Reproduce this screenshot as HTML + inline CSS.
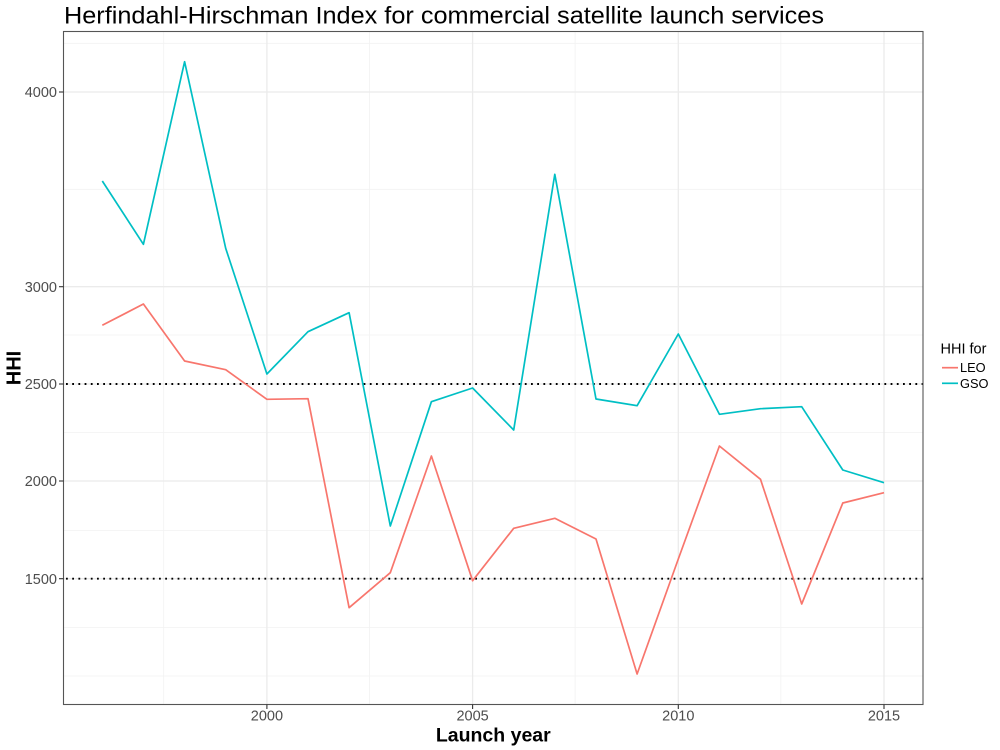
<!DOCTYPE html>
<html>
<head>
<meta charset="utf-8">
<style>
html,body{margin:0;padding:0;background:#fff;}
svg{display:block;font-family:"Liberation Sans",Arial,sans-serif;}
</style>
</head>
<body>
<svg width="1000" height="750" viewBox="0 0 1000 750" xmlns="http://www.w3.org/2000/svg">
<rect x="0" y="0" width="1000" height="750" fill="#fff"/>
<!-- minor gridlines -->
<g stroke="#f2f2f2" stroke-width="0.8" fill="none">
<line x1="64" x2="923" y1="43.3" y2="43.3"/>
<line x1="64" x2="923" y1="189.3" y2="189.3"/>
<line x1="64" x2="923" y1="335" y2="335"/>
<line x1="64" x2="923" y1="432.5" y2="432.5"/>
<line x1="64" x2="923" y1="530.5" y2="530.5"/>
<line x1="64" x2="923" y1="627.5" y2="627.5"/>
<line x1="64" x2="923" y1="676" y2="676"/>
<line y1="32" y2="704" x1="163.7" x2="163.7"/>
<line y1="32" y2="704" x1="369.4" x2="369.4"/>
<line y1="32" y2="704" x1="575.1" x2="575.1"/>
<line y1="32" y2="704" x1="780.8" x2="780.8"/>
</g>
<!-- major gridlines -->
<g stroke="#ebebeb" stroke-width="1.3" fill="none">
<line x1="64" x2="923" y1="92" y2="92"/>
<line x1="64" x2="923" y1="286.7" y2="286.7"/>
<line x1="64" x2="923" y1="384" y2="384"/>
<line x1="64" x2="923" y1="481" y2="481"/>
<line x1="64" x2="923" y1="578.7" y2="578.7"/>
<line y1="32" y2="704" x1="266.9" x2="266.9"/>
<line y1="32" y2="704" x1="472.6" x2="472.6"/>
<line y1="32" y2="704" x1="678.3" x2="678.3"/>
<line y1="32" y2="704" x1="884" x2="884" />
</g>
<!-- dotted reference lines -->
<g stroke="#000" stroke-width="1.9" stroke-dasharray="1.8 4.4" fill="none">
<line x1="66" x2="923" y1="384" y2="384"/>
<line x1="66" x2="923" y1="578.7" y2="578.7"/>
</g>
<!-- series -->
<polyline fill="none" stroke="#F8766D" stroke-width="1.7" stroke-linejoin="round" points="102.3,325.3 143.4,304 184.6,361 225.7,369.7 266.9,399.3 308,398.7 349.1,607.7 390.3,572.7 431.4,456 472.6,580.7 513.7,528.3 554.8,518.3 596,539 637.1,674 678.3,559 719.4,446 760.5,479.3 801.7,604 842.8,503 884,492.7"/>
<polyline fill="none" stroke="#00BFC4" stroke-width="1.7" stroke-linejoin="round" points="102.3,181 143.4,244.3 184.6,61.7 225.7,248.3 266.9,374 308,331.7 349.1,312.7 390.3,526 431.4,401.7 472.6,388 513.7,430 554.8,174.3 596,399 637.1,405.7 678.3,334 719.4,414.3 760.5,408.7 801.7,406.7 842.8,470 884,482.7"/>
<!-- panel border -->
<rect x="63.5" y="31.5" width="859.5" height="673" fill="none" stroke="#555" stroke-width="1.1"/>
<!-- ticks -->
<g stroke="#333" stroke-width="1.1">
<line x1="59" x2="63.5" y1="92" y2="92"/>
<line x1="59" x2="63.5" y1="286.7" y2="286.7"/>
<line x1="59" x2="63.5" y1="384" y2="384"/>
<line x1="59" x2="63.5" y1="481" y2="481"/>
<line x1="59" x2="63.5" y1="578.7" y2="578.7"/>
<line y1="704.5" y2="709" x1="266.9" x2="266.9"/>
<line y1="704.5" y2="709" x1="472.6" x2="472.6"/>
<line y1="704.5" y2="709" x1="678.3" x2="678.3"/>
<line y1="704.5" y2="709" x1="884" x2="884"/>
</g>
<!-- y tick labels -->
<g font-size="14.5" fill="#4d4d4d" text-anchor="end">
<text x="57" y="97.2">4000</text>
<text x="57" y="291.9">3000</text>
<text x="57" y="389.2">2500</text>
<text x="57" y="486.2">2000</text>
<text x="57" y="583.9">1500</text>
</g>
<!-- x tick labels -->
<g font-size="14.5" fill="#4d4d4d" text-anchor="middle">
<text x="266.9" y="720.5">2000</text>
<text x="472.6" y="720.5">2005</text>
<text x="678.3" y="720.5">2010</text>
<text x="884" y="720.5">2015</text>
</g>
<!-- axis titles -->
<text x="493.3" y="741.7" font-size="19.5" font-weight="bold" text-anchor="middle" fill="#000">Launch year</text>
<text transform="translate(20.5,368) rotate(-90)" font-size="20" font-weight="bold" text-anchor="middle" fill="#000">HHI</text>
<!-- title -->
<text x="64" y="23.3" font-size="24" fill="#000" textLength="760" lengthAdjust="spacingAndGlyphs">Herfindahl-Hirschman Index for commercial satellite launch services</text>
<!-- legend -->
<text x="940.5" y="353.5" font-size="14.5" fill="#000">HHI for</text>
<line x1="942" x2="958" y1="367.7" y2="367.7" stroke="#F8766D" stroke-width="1.7"/>
<line x1="942" x2="958" y1="383.3" y2="383.3" stroke="#00BFC4" stroke-width="1.7"/>
<text x="960" y="372" font-size="12.8" fill="#000">LEO</text>
<text x="960" y="388" font-size="12.8" fill="#000">GSO</text>
</svg>
</body>
</html>
